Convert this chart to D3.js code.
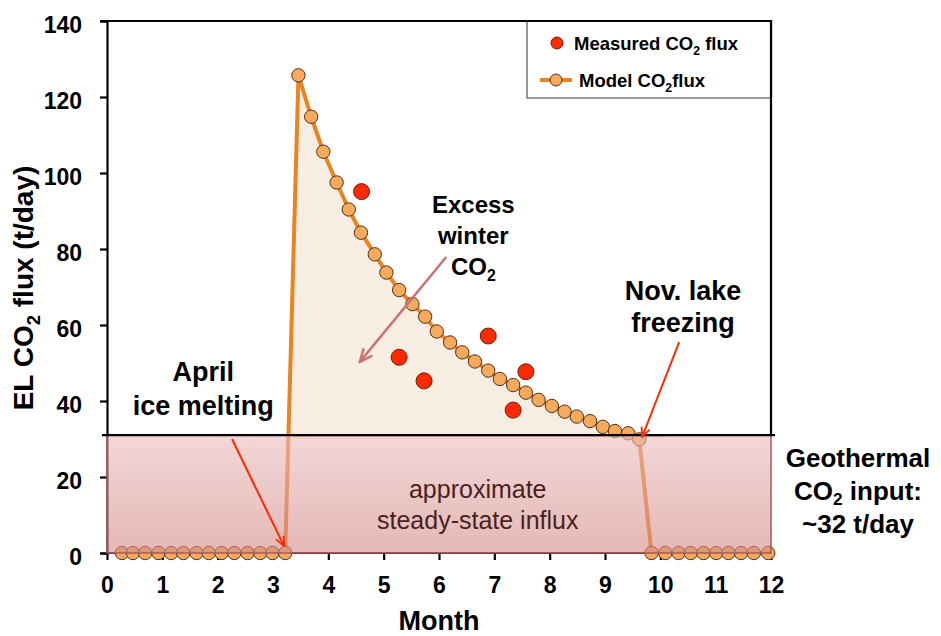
<!DOCTYPE html>
<meta charset="utf-8">
<style>
  body { margin: 0; background: #fff; }
  text { font-family: "Liberation Sans", Arial, sans-serif; }
</style>
<body>
<script src="https://cdn.jsdelivr.net/npm/d3@7/dist/d3.min.js"></script>
<script>

// model CO2 flux, weekly steps (month, t/day)
var modelMonth = [0.27, 0.47, 0.69, 0.93, 1.16, 1.38, 1.62, 1.84, 2.07, 2.30, 2.54, 2.77, 2.99, 3.22,
  3.46, 3.69, 3.91, 4.15, 4.37, 4.59, 4.84, 5.05, 5.28, 5.52, 5.75, 5.96, 6.20, 6.42, 6.65, 6.89,
  7.10, 7.34, 7.57, 7.80, 8.04, 8.27, 8.49, 8.73, 8.96, 9.18, 9.42, 9.62,
  9.84, 10.09, 10.33, 10.55, 10.78, 11.01, 11.23, 11.46, 11.69, 11.95];
var modelFlux = [0, 0, 0, 0, 0, 0, 0, 0, 0, 0, 0, 0, 0, 0,
  125.7, 114.8, 105.6, 97.5, 90.4, 84.3, 78.6, 73.8, 69.2, 65.5, 62.2, 58.3, 55.4, 52.8, 50.4, 48.0,
  45.8, 44.2, 42.2, 40.3, 38.7, 37.2, 35.9, 34.7, 33.2, 32.1, 31.5, 29.9,
  0, 0, 0, 0, 0, 0, 0, 0, 0, 0];

// measured CO2 flux
var measuredMonth = [4.60, 5.28, 5.73, 6.89, 7.34, 7.57];
var measuredFlux = [95.1, 51.5, 45.3, 57.1, 37.6, 47.7];

var xTicks = [0, 1, 2, 3, 4, 5, 6, 7, 8, 9, 10, 11, 12];
var yTicks = [0, 20, 40, 60, 80, 100, 120, 140];
var geothermal = 31;

var model = modelMonth.map(function(m, i) { return {m: m, v: modelFlux[i]}; });
var measured = measuredMonth.map(function(m, i) { return {m: m, v: measuredFlux[i]}; });

var x = d3.scaleLinear().domain([0, 12]).range([107, 771]);
var y = d3.scaleLinear().domain([0, 140]).range([553, 21]);

var svg = d3.select("body").append("svg")
    .attr("width", 941)
    .attr("height", 636);

var defs = svg.append("defs");

var grad = defs.append("linearGradient")
    .attr("id", "pink")
    .attr("x1", 0).attr("y1", 0).attr("x2", 0).attr("y2", 1);
grad.append("stop").attr("offset", "0%").attr("stop-color", "#ebbcbc");
grad.append("stop").attr("offset", "100%").attr("stop-color", "#d38985");

defs.append("clipPath").attr("id", "above")
  .append("rect")
    .attr("x", x(0)).attr("y", y(140))
    .attr("width", x(12) - x(0))
    .attr("height", y(geothermal) - y(140));

function marker(id, color, size) {
  defs.append("marker")
      .attr("id", id)
      .attr("viewBox", "0 0 10 10")
      .attr("refX", 9).attr("refY", 5)
      .attr("markerUnits", "userSpaceOnUse")
      .attr("markerWidth", size).attr("markerHeight", size)
      .attr("orient", "auto")
    .append("path")
      .attr("d", "M1,1.5L9,5L1,8.5")
      .attr("fill", "none")
      .attr("stroke", color)
      .attr("stroke-width", 1.6)
      .attr("stroke-linejoin", "miter");
}
marker("headRed", "#ff2a00", 12);
marker("headRose", "#c87474", 16);

// excess winter CO2 area
svg.append("path")
    .datum(model)
    .attr("clip-path", "url(#above)")
    .attr("fill", "#f8ede2")
    .attr("d", d3.area()
      .x(function(d) { return x(d.m); })
      .y0(y(0))
      .y1(function(d) { return y(d.v); }));

// axes
var yAxis = d3.axisLeft(y).tickValues(yTicks).tickSize(7).tickPadding(18);
var gy = svg.append("g").attr("transform", "translate(" + x(0) + ",0)").call(yAxis);
var xAxis = d3.axisBottom(x).tickValues(xTicks).tickSize(7).tickPadding(17);
var gx = svg.append("g").attr("transform", "translate(0," + y(0) + ")").call(xAxis);

[gx, gy].forEach(function(g) {
  g.select(".domain").attr("stroke", "#000").attr("stroke-width", 2.2);
  g.selectAll(".tick line").attr("stroke", "#000").attr("stroke-width", 2.2);
  g.selectAll(".tick text")
      .attr("fill", "#000")
      .attr("font-size", 23)
      .attr("font-weight", "bold")
      .attr("font-family", "Liberation Sans, Arial, sans-serif");
});
gy.selectAll(".tick text").attr("dy", "0.48em");
gx.select(".domain").attr("d", "M" + x(0) + ",0H" + x(12));

// thin artifact line under level
svg.append("line")
    .attr("x1", x(3.35)).attr("x2", x(10.1))
    .attr("y1", y(geothermal - 0.4)).attr("y2", y(geothermal - 0.4))
    .attr("stroke", "#f2a866").attr("stroke-width", 1);

// model line + points
svg.append("path")
    .datum(model)
    .attr("fill", "none")
    .attr("stroke", "#ea8420")
    .attr("stroke-width", 4)
    .attr("stroke-linejoin", "round")
    .attr("d", d3.line()
      .x(function(d) { return x(d.m); })
      .y(function(d) { return y(d.v); }));

svg.append("g").selectAll("circle")
  .data(model)
  .enter().append("circle")
    .attr("cx", function(d) { return x(d.m); })
    .attr("cy", function(d) { return y(d.v); })
    .attr("r", 6.7)
    .attr("fill", "#f7aa5c")
    .attr("stroke", "#4d3019")
    .attr("stroke-width", 1);

// steady-state influx box
svg.append("rect")
    .attr("x", x(0)).attr("y", y(geothermal))
    .attr("width", x(12) - x(0))
    .attr("height", y(0) - y(geothermal))
    .attr("fill", "url(#pink)")
    .attr("fill-opacity", 0.6)
    .attr("stroke", "#a65a57")
    .attr("stroke-width", 1.5);

// frame top / right and level line
svg.append("path")
    .attr("d", "M" + (x(0) - 7) + "," + y(140) + "H" + x(12) + "V" + y(geothermal))
    .attr("fill", "none").attr("stroke", "#000").attr("stroke-width", 2.2);
svg.append("line")
    .attr("x1", x(0) - 5).attr("x2", x(12) + 4)
    .attr("y1", y(geothermal)).attr("y2", y(geothermal))
    .attr("stroke", "#000").attr("stroke-width", 2.2);

// measured points
svg.append("g").selectAll("circle")
  .data(measured)
  .enter().append("circle")
    .attr("cx", function(d) { return x(d.m); })
    .attr("cy", function(d) { return y(d.v); })
    .attr("r", 8)
    .attr("fill", "#ff2a00")
    .attr("stroke", "#6e1a0a")
    .attr("stroke-width", 1);

// text helper with CO2 subscript
function label(px, py, size, lines, opts) {
  opts = opts || {};
  var sub = opts.sub || 0.25;
  var t = svg.append("text")
      .attr("x", px).attr("y", py)
      .attr("font-size", size)
      .attr("font-weight", opts.weight || "bold")
      .attr("fill", opts.color || "#000")
      .attr("text-anchor", opts.anchor || "middle");
  if (opts.family) t.attr("font-family", opts.family);
  if (opts.transform) t.attr("transform", opts.transform);
  lines.forEach(function(line, i) {
    var parts = line.split("_2");
    parts.forEach(function(p, j) {
      var s = t.append("tspan").text(p);
      if (j === 0) s.attr("x", px).attr("dy", i === 0 ? 0 : size * (opts.lh || 1.3));
      else s.attr("dy", -size * sub);
      if (j < parts.length - 1) {
        t.append("tspan").text("2")
            .attr("font-size", size * 0.66)
            .attr("dy", size * sub);
      }
    });
  });
  return t;
}

// axis titles
label(0, 0, 28, ["EL CO_2 flux (t/day)"], {transform: "translate(33,288) rotate(-90)"});
label(x(6), 630, 27, ["Month"]);

// annotations
label(x(6.62), 213, 24, ["Excess", "winter", "CO_2"], {lh: 1.29});
label(x(10.41), 300, 27, ["Nov. lake", "freezing"], {lh: 1.2});
label(x(1.74), 381, 27, ["April", "ice melting"], {lh: 1.26});
label(858, 467, 26, ["Geothermal", "CO_2 input:", "~32 t/day"], {lh: 1.27, sub: 0.2});
label(x(6.7), 498, 25, ["approximate", "steady-state influx"],
  {weight: "normal", color: "#4a1f1f", family: "Lato, Open Sans, sans-serif", lh: 1.22});

function arrow(m1, v1, m2, v2, color, head, w) {
  svg.append("line")
      .attr("x1", x(m1)).attr("y1", y(v1))
      .attr("x2", x(m2)).attr("y2", y(v2))
      .attr("stroke", color).attr("stroke-width", w)
      .attr("marker-end", "url(#" + head + ")");
}
arrow(6.13, 77.9, 4.57, 50.3, "#c87474", "headRose", 2.5);
arrow(10.34, 55.5, 9.67, 30.5, "#ff2a00", "headRed", 2);
arrow(2.26, 30, 3.2, 1.8, "#ff2a00", "headRed", 2);

// legend
var lg = svg.append("g");
lg.append("rect")
    .attr("x", 527).attr("y", 21).attr("width", 244).attr("height", 77)
    .attr("fill", "#fff").attr("stroke", "#555").attr("stroke-width", 1.2);
svg.append("path")
    .attr("d", "M527," + y(140) + "H" + x(12) + "V98")
    .attr("fill", "none").attr("stroke", "#000").attr("stroke-width", 2.2);
lg.append("circle").attr("cx", 557).attr("cy", 43).attr("r", 6)
    .attr("fill", "#ff2a00").attr("stroke", "#6e1a0a");
lg.append("line").attr("x1", 540).attr("x2", 572).attr("y1", 80).attr("y2", 80)
    .attr("stroke", "#ea8420").attr("stroke-width", 4);
lg.append("circle").attr("cx", 556).attr("cy", 80).attr("r", 6)
    .attr("fill", "#f7aa5c").attr("stroke", "#4d3019");
label(574, 50, 18.5, ["Measured  CO_2 flux"], {anchor: "start"});
label(579, 87, 18.5, ["Model CO_2flux"], {anchor: "start"});

</script>
</body>
